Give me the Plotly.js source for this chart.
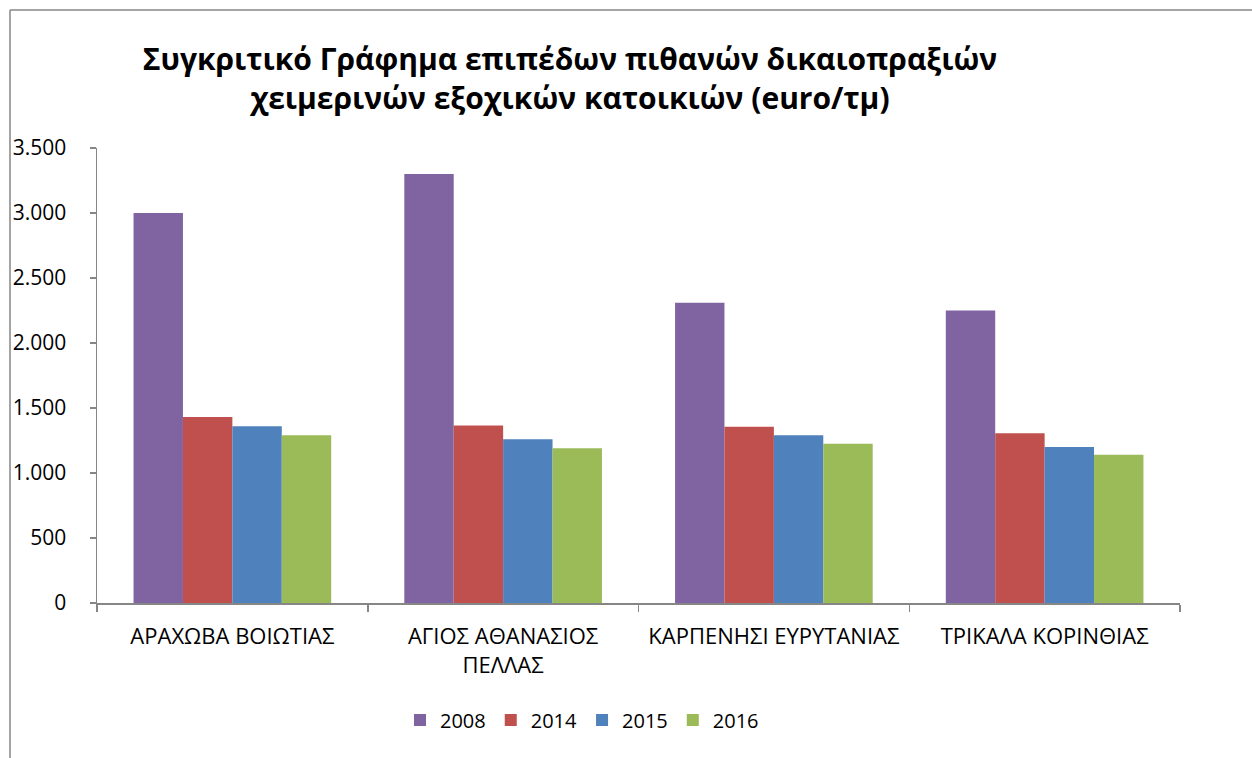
<!DOCTYPE html>
<html>
<head>
<meta charset="utf-8">
<script src="https://cdn.plot.ly/plotly-3.0.1.min.js"></script>
<style>html,body{margin:0;padding:0;background:#fff;}#chart{width:1252px;height:758px;}</style>
</head>
<body>
<div id="chart"></div>
<script>
const categories = ["ΑΡΑΧΩΒΑ ΒΟΙΩΤΙΑΣ", "ΑΓΙΟΣ ΑΘΑΝΑΣΙΟΣ<br>ΠΕΛΛΑΣ", "ΚΑΡΠΕΝΗΣΙ ΕΥΡΥΤΑΝΙΑΣ", "ΤΡΙΚΑΛΑ ΚΟΡΙΝΘΙΑΣ"];
const seriesNames = ["2008", "2014", "2015", "2016"];
const values2008 = [3000, 3300, 2310, 2250];
const values2014 = [1430, 1365, 1355, 1305];
const values2015 = [1360, 1260, 1290, 1200];
const values2016 = [1290, 1190, 1225, 1140];
const colors = ["#8064A2", "#C0504D", "#4F81BD", "#9BBB59"];
const yTicks = [0, 500, 1000, 1500, 2000, 2500, 3000, 3500];

const W = 1252, H = 758;
const L = 97, R = 72, T = 148, B = 155;
const pw = W - L - R, ph = H - T - B;

const allVals = [values2008, values2014, values2015, values2016];
const traces = allVals.map((v, i) => ({
  type: 'bar', name: seriesNames[i], x: categories, y: v,
  marker: {color: colors[i], line: {width: 0}},
  hoverinfo: 'x+y'
}));

const font = "Open Sans, DejaVu Sans, sans-serif";
const layout = {
  width: W, height: H,
  margin: {l: L, r: R, t: T, b: B},
  paper_bgcolor: '#fff', plot_bgcolor: '#fff',
  separators: ',.',
  barmode: 'group', bargap: 0.27, bargroupgap: 0,
  showlegend: true,
  title: {
    text: "<b>Συγκριτικό Γράφημα επιπέδων πιθανών δικαιοπραξιών<br>χειμερινών εξοχικών κατοικιών (euro/τμ)</b>",
    font: {family: font, size: 30, color: '#000'},
    x: 570 / W, xanchor: 'center', xref: 'container',
    y: 1 - 70 / H, yanchor: 'middle', yref: 'container'
  },
  xaxis: {
    type: 'category', tickson: 'boundaries',
    ticks: 'outside', ticklen: 7, tickcolor: '#868686', tickwidth: 1.5,
    showline: true, linecolor: '#868686', linewidth: 1.5,
    showgrid: false, zeroline: false,
    tickfont: {family: font, size: 22, color: '#000'},
    ticklabelstandoff: 13,
    tickangle: 0, automargin: false
  },
  yaxis: {
    range: [0, 3500], tickvals: yTicks, tickformat: ',d',
    ticks: 'outside', ticklen: 6, tickcolor: '#868686', tickwidth: 1.5,
    showline: true, linecolor: '#868686', linewidth: 1.5,
    showgrid: false, zeroline: false,
    tickfont: {family: font, size: 21, color: '#000'},
    ticklabelstandoff: 19,
    automargin: false
  },
  legend: {
    orientation: 'h', x: (582 - L) / pw, xanchor: 'center',
    y: (H - B - 720) / ph, yanchor: 'middle',
    font: {family: font, size: 20, color: '#000'},
    itemwidth: 30, traceorder: 'normal'
  },
  shapes: [
    {type: 'line', xref: 'paper', yref: 'paper',
     x0: (10 - L) / pw, x1: (10 - L) / pw, y0: (H - B - 10) / ph, y1: (H - B - 770) / ph,
     line: {color: '#868686', width: 1.5}},
    {type: 'line', xref: 'paper', yref: 'paper',
     x0: (10 - L) / pw, x1: (1260 - L) / pw, y0: (H - B - 10) / ph, y1: (H - B - 10) / ph,
     line: {color: '#868686', width: 1.5}}
  ]
};

Plotly.newPlot('chart', traces, layout, {displayModeBar: false, staticPlot: true});
</script>
</body>
</html>
